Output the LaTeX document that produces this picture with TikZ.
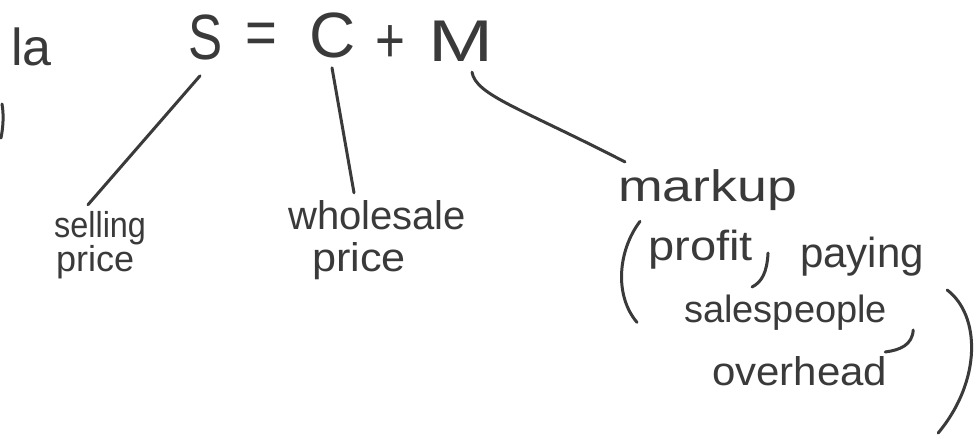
\documentclass[tikz,border=0pt]{standalone}
\usepackage{fontspec}
\setmainfont{Liberation Sans}
\usetikzlibrary{calc}
\definecolor{ink}{HTML}{3A3A3A}
\newcommand{\hwfs}[1]{\fontsize{#1}{#1}\selectfont}
\tikzset{
  hw/.style={text=ink, inner sep=0pt, anchor=base west},
  sym/.style={text=ink, inner sep=0pt, anchor=base, font=\hwfs{64}},
  stroke/.style={draw=ink, line width=3pt, line cap=round, line join=round},
}
\begin{document}
\begin{tikzpicture}[x=1pt,y=-1pt]
\fill[white] (0,0) rectangle (979,438);
\useasboundingbox (0,0) rectangle (979,438);

% fragment at the left edge
\node[hw, font=\hwfs{52}] (la) at (11,66) {la};
\coordinate (frag) at (2,104);
\draw[stroke] (frag) .. controls (4,115) and (3,128) .. (1,138);

% formula
\node[sym, xscale=.8] (S) at (206,60) {S};
\node[sym, xscale=.85] (eq) at (261,55) {=};
\node[sym] (C) at (333,58) {C};
\node[sym, xscale=.8] (plus) at (390,63) {+};
\node[sym, xscale=1.22, yscale=.92] (M) at (461,62) {M};

% labels
\node[hw, font=\hwfs{36}, xscale=.9] (selling) at (54,238) {selling};
\node[hw, font=\hwfs{36}] (price1) at (56,272) {price};
\node[hw, font=\hwfs{40}] (wholesale) at (288,230) {wholesale};
\node[hw, font=\hwfs{40}, xscale=1.08] (price2) at (312,271) {price};
\node[hw, font=\hwfs{44}, xscale=1.22] (markup) at (618,202) {markup};
\node[hw, font=\hwfs{42}, xscale=1.12] (profit) at (648,260) {profit};
\node[hw, font=\hwfs{42}] (paying) at (800,268) {paying};
\node[hw, font=\hwfs{38}] (sales) at (684,322) {salespeople};
\node[hw, font=\hwfs{40}, xscale=1.05] (overhead) at (712,385) {overhead};

% connectors
\draw[stroke] ($(S.south)+(-6,15)$) -- ($(selling.north west)+(34,-7)$);
\draw[stroke] ($(C.south)+(-1,9)$) -- ($(wholesale.north west)+(66,-8)$);
\draw[stroke] ($(M.south)+(11,10)$) .. controls ($(M.south)+(15,33)$) and ($(markup.north west)+(-98,-62)$) .. ($(markup.north west)+(7,-8)$);

% brackets and commas
\draw[stroke] ($(profit.north west)+(-8,-8)$) .. controls ($(profit.north west)+(-30,21)$) and ($(profit.north west)+(-34,66)$) .. ($(profit.north west)+(-11,93)$);
\draw[stroke] ($(profit.base east)+(15,-7)$) .. controls ($(profit.base east)+(14,12)$) and ($(profit.base east)+(9,22)$) .. ($(profit.base east)+(-1,27)$);
\draw[stroke] ($(sales.base east)+(26,8)$) .. controls ($(sales.base east)+(25,23)$) and ($(sales.base east)+(13,28)$) .. ($(sales.base east)+(-2,30)$);
\draw[stroke] ($(paying.base east)+(23,22)$) .. controls ($(paying.base east)+(56,47)$) and ($(paying.base east)+(58,112)$) .. ($(paying.base east)+(14,165)$);
\end{tikzpicture}
\end{document}
